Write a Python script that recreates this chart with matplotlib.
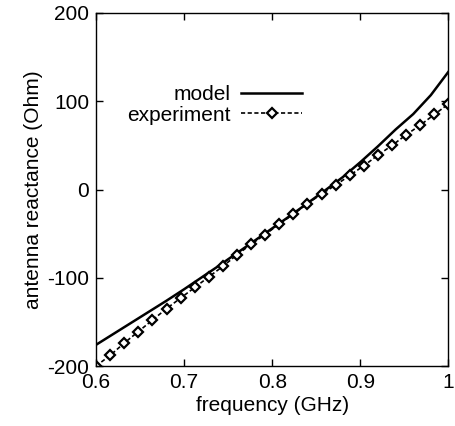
import matplotlib
matplotlib.use('Agg')
import matplotlib.pyplot as plt
import numpy as np

plt.rcParams['font.family'] = ['Liberation Sans', 'DejaVu Sans']
plt.rcParams['axes.unicode_minus'] = False

# model curve, every 0.02 GHz
model_f = [0.60, 0.62, 0.64, 0.66, 0.68, 0.70, 0.72, 0.74, 0.76, 0.78, 0.80,
           0.82, 0.84, 0.86, 0.88, 0.90, 0.92, 0.94, 0.96, 0.98, 1.00]
model_x = [-176, -163.5, -151, -138.5, -126, -113, -99.5, -86, -72, -58, -44,
           -30, -15.5, -1, 14, 31, 49, 68, 85.5, 107, 133.5]

# measured points, 0.016 GHz apart
exp_f = [0.600, 0.616, 0.632, 0.648, 0.664, 0.680, 0.696, 0.712, 0.728, 0.744,
         0.760, 0.776, 0.792, 0.808, 0.824, 0.840, 0.856, 0.872, 0.888, 0.904,
         0.920, 0.936, 0.952, 0.968, 0.984, 1.000]
exp_x = [-200, -188, -174, -161, -148, -135, -123, -111, -99, -87,
         -74, -62, -51, -39, -28, -16, -5, 5, 16, 27,
         39, 50, 62, 73, 85, 97]

xticks = [0.6, 0.7, 0.8, 0.9, 1.0]
xticklabels = ['0.6', '0.7', '0.8', '0.9', '1']
yticks = [-200, -100, 0, 100, 200]

fig = plt.figure(figsize=(4.55, 4.26), dpi=100)
ax = fig.add_axes([0.211, 0.1408, 0.7747, 0.8287])

ax.plot(model_f, model_x, color='black', lw=1.8, label='model')
ax.plot(exp_f, exp_x, color='black', lw=1.2, linestyle=(0, (2.5, 1.5)),
        marker='D', markersize=5.4, markerfacecolor='white',
        markeredgecolor='black', markeredgewidth=1.6, label='experiment')

ax.set_xlim(0.6, 1.0)
ax.set_ylim(-200, 200)
ax.set_xticks(xticks)
ax.set_xticklabels(xticklabels)
ax.set_yticks(yticks)
ax.tick_params(direction='in', length=5, width=1, top=True, right=True,
               labelsize=15, pad=5, colors='black')
for s in ax.spines.values():
    s.set_linewidth(1)

ax.set_xlabel('frequency (GHz)', fontsize=15, labelpad=3)
ax.set_ylabel('antenna reactance (Ohm)', fontsize=15, labelpad=3)

ax.legend(loc='upper left', bbox_to_anchor=(0.048, 0.836), frameon=False,
          markerfirst=False, fontsize=15, handlelength=2.9, handletextpad=0.5,
          labelspacing=0.05, borderpad=0.2)

fig.savefig('out.png', dpi=100)
